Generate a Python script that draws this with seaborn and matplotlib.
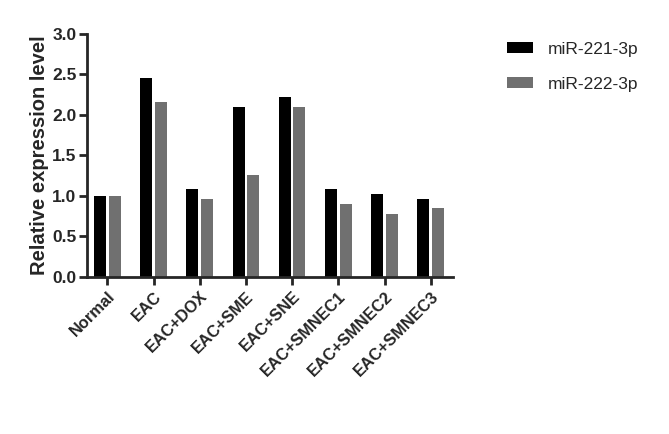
import matplotlib
matplotlib.use("Agg")
import matplotlib.pyplot as plt
import pandas as pd
import seaborn as sns

# ─── Data ─────────────────────────────────────────────────────────────────────
groups = ["Normal", "EAC", "EAC+DOX", "EAC+SME", "EAC+SNE",
          "EAC+SMNEC1", "EAC+SMNEC2", "EAC+SMNEC3"]
mir221 = [1.00, 2.46, 1.08, 2.10, 2.22, 1.08, 1.02, 0.96]
mir222 = [1.00, 2.16, 0.96, 1.26, 2.10, 0.90, 0.78, 0.85]
series = ["miR-221-3p", "miR-222-3p"]

df = pd.DataFrame({
    "group": groups * 2,
    "value": mir221 + mir222,
    "miRNA": [series[0]] * len(groups) + [series[1]] * len(groups),
})

sns.set_style("ticks")
plt.rcParams["font.family"] = ["Liberation Sans", "DejaVu Sans"]

fig = plt.figure(figsize=(6.69, 4.34), dpi=100)
ax = fig.add_axes([0.130, 0.362, 0.547, 0.560])

sns.barplot(data=df, x="group", y="value", hue="miRNA", order=groups,
            hue_order=series, palette=["#000000", "#707070"],
            width=0.63, gap=0.17, ax=ax, linewidth=0, saturation=1)

ax.set_xlim(-0.44, 7.48)
ax.set_ylim(0, 3.0)
ax.set_yticks([0.0, 0.5, 1.0, 1.5, 2.0, 2.5, 3.0])
ax.set_yticklabels([f"{v:.1f}" for v in ax.get_yticks()],
                   fontsize=12.5, fontweight="bold")
ax.set_xticks(range(len(groups)))
ax.set_xticklabels(groups, rotation=45, ha="right", rotation_mode="anchor",
                   fontsize=11.8, fontweight="bold")
ax.set_xlabel("")
ax.set_ylabel("Relative expression level", fontsize=14.5, fontweight="bold",
              labelpad=2)

sns.despine(ax=ax)
for side in ["left", "bottom"]:
    ax.spines[side].set_linewidth(2.0)
ax.tick_params(axis="both", width=2.0, length=6, direction="out", pad=1.5)
ax.tick_params(axis="x", pad=2.5)

leg = ax.legend(loc="upper left", bbox_to_anchor=(1.13, 0.995), frameon=False,
                fontsize=12.5, handlelength=1.5, handleheight=0.6,
                handletextpad=0.85, labelspacing=1.15, borderaxespad=0)

fig.savefig("out.png", dpi=100)
